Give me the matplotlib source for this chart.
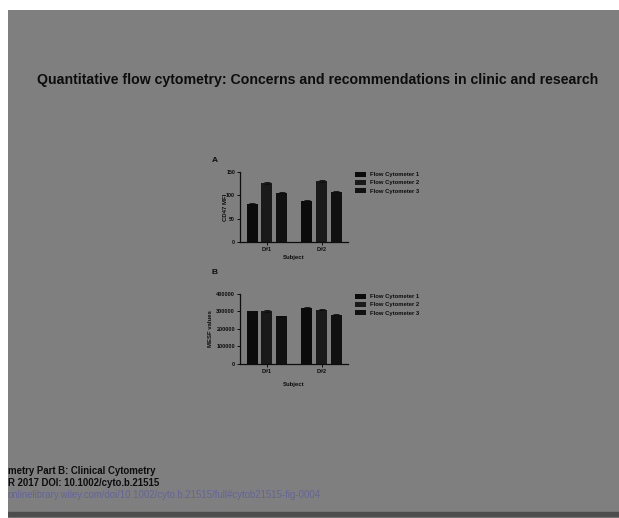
import matplotlib
matplotlib.use("Agg")
import matplotlib.pyplot as plt
import numpy as np

# ---- data ----
subjects = ["D#1", "D#2"]
instruments = ["Flow Cytometer 1", "Flow Cytometer 2", "Flow Cytometer 3"]
cd47_mfi = [[82, 88], [127, 131], [106, 108]]
cd47_err = [[1.5, 1.5], [2, 2], [1.5, 1.5]]
mesf = [[301000, 322000], [303000, 311000], [273000, 280000]]
mesf_err = [[4000, 4000], [4000, 4000], [3000, 3000]]
a_ticks = [0, 50, 100, 150]
b_ticks = [0, 100000, 200000, 300000, 400000]

title = "Quantitative flow cytometry: Concerns and recommendations in clinic and research"
footer = ["metry Part B: Clinical Cytometry",
          "R 2017 DOI: 10.1002/cyto.b.21515",
          "onlinelibrary.wiley.com/doi/10.1002/cyto.b.21515/full#cytob21515-fig-0004"]

BG = "#7f7f7f"
INK = "#0d0d0d"
bar_colors = ["#0b0b0b", "#1a1a1a", "#111111"]

W, H = 619, 518
fig = plt.figure(figsize=(W / 100, H / 100), dpi=100, facecolor="white")
plt.rcParams["font.family"] = ["Liberation Sans", "DejaVu Sans"]


def fx(px):
    return px / W


def fy(py):
    return 1 - py / H


# gray page area
page = fig.add_axes([fx(8), 0, 1 - fx(8), fy(10)])
page.set_facecolor(BG)
page.set_xlim(8, W)
page.set_ylim(H, 10)
page.axis("off")
page.add_patch(plt.Rectangle((8, 10), W - 8, H - 10, color=BG, zorder=0))
page.axhspan(512, 516, color="#4d4d4d", zorder=1)

page.text(318, 80, title, ha="center", va="center", fontsize=10.15,
          fontweight="bold", color=INK)
page.text(8, 471, footer[0], ha="left", va="center", fontsize=6.9,
          fontweight="bold", color=INK, clip_on=True)
page.text(8, 483, footer[1], ha="left", va="center", fontsize=6.9,
          fontweight="bold", color=INK, clip_on=True)
page.text(8, 495, footer[2], ha="left", va="center", fontsize=6.9,
          color="#64649a", clip_on=True)


def panel(rect, values, errs, ticks, ylabel, letter, letter_xy, leg_xy,
          tick_fs, xpad, ypad):
    ax = fig.add_axes(rect)
    ax.set_facecolor("none")
    x = np.arange(len(subjects))
    width = 0.2
    offs = [-0.27, 0.0, 0.27]
    for i, name in enumerate(instruments):
        ax.bar(x + offs[i], values[i], width, color=bar_colors[i], label=name,
               yerr=errs[i], error_kw=dict(ecolor=INK, elinewidth=0.6,
                                           capsize=2.2, capthick=0.6))
    ax.set_xlim(-0.49, 1.48)
    ax.set_ylim(ticks[0], ticks[-1])
    ax.set_yticks(ticks)
    ax.set_yticklabels([str(t) for t in ticks], fontsize=tick_fs,
                       fontweight="bold", color=INK)
    ax.set_xticks(x)
    ax.set_xticklabels(subjects, fontsize=4, fontweight="bold", color=INK)
    for s in ["top", "right"]:
        ax.spines[s].set_visible(False)
    for s in ["left", "bottom"]:
        ax.spines[s].set_color(INK)
        ax.spines[s].set_linewidth(0.9)
    ax.tick_params(length=2, width=0.7, color=INK, pad=1.5)
    ax.set_xlabel("Subject", fontsize=4.3, fontweight="bold", color=INK,
                  labelpad=xpad)
    ax.set_ylabel(ylabel, fontsize=4.3, fontweight="bold", color=INK,
                  labelpad=ypad)
    fig.text(fx(letter_xy[0]), fy(letter_xy[1]), letter, fontsize=6,
             fontweight="bold", color=INK, ha="center", va="center")
    ax.legend(loc="upper left", bbox_to_anchor=(fx(leg_xy[0]), fy(leg_xy[1])),
              bbox_transform=fig.transFigure, frameon=False,
              prop=dict(weight="bold", size=4.2), handlelength=1.9,
              handleheight=0.9, handletextpad=0.7, labelspacing=0.45,
              borderpad=0, borderaxespad=0, labelcolor=INK)
    return ax


panel([fx(240), fy(242), fx(348) - fx(240), (242 - 172) / H],
      cd47_mfi, cd47_err, a_ticks, "CD47 MFI", "A", (215, 161), (355, 172),
      3.8, 2, -1)
panel([fx(240), fy(363.7), fx(348) - fx(240), (363.7 - 294) / H],
      mesf, mesf_err, b_ticks, "MESF values", "B", (215, 273), (355, 294),
      4.0, 6, 2.5)

fig.savefig("out.png", dpi=100, facecolor="white")
